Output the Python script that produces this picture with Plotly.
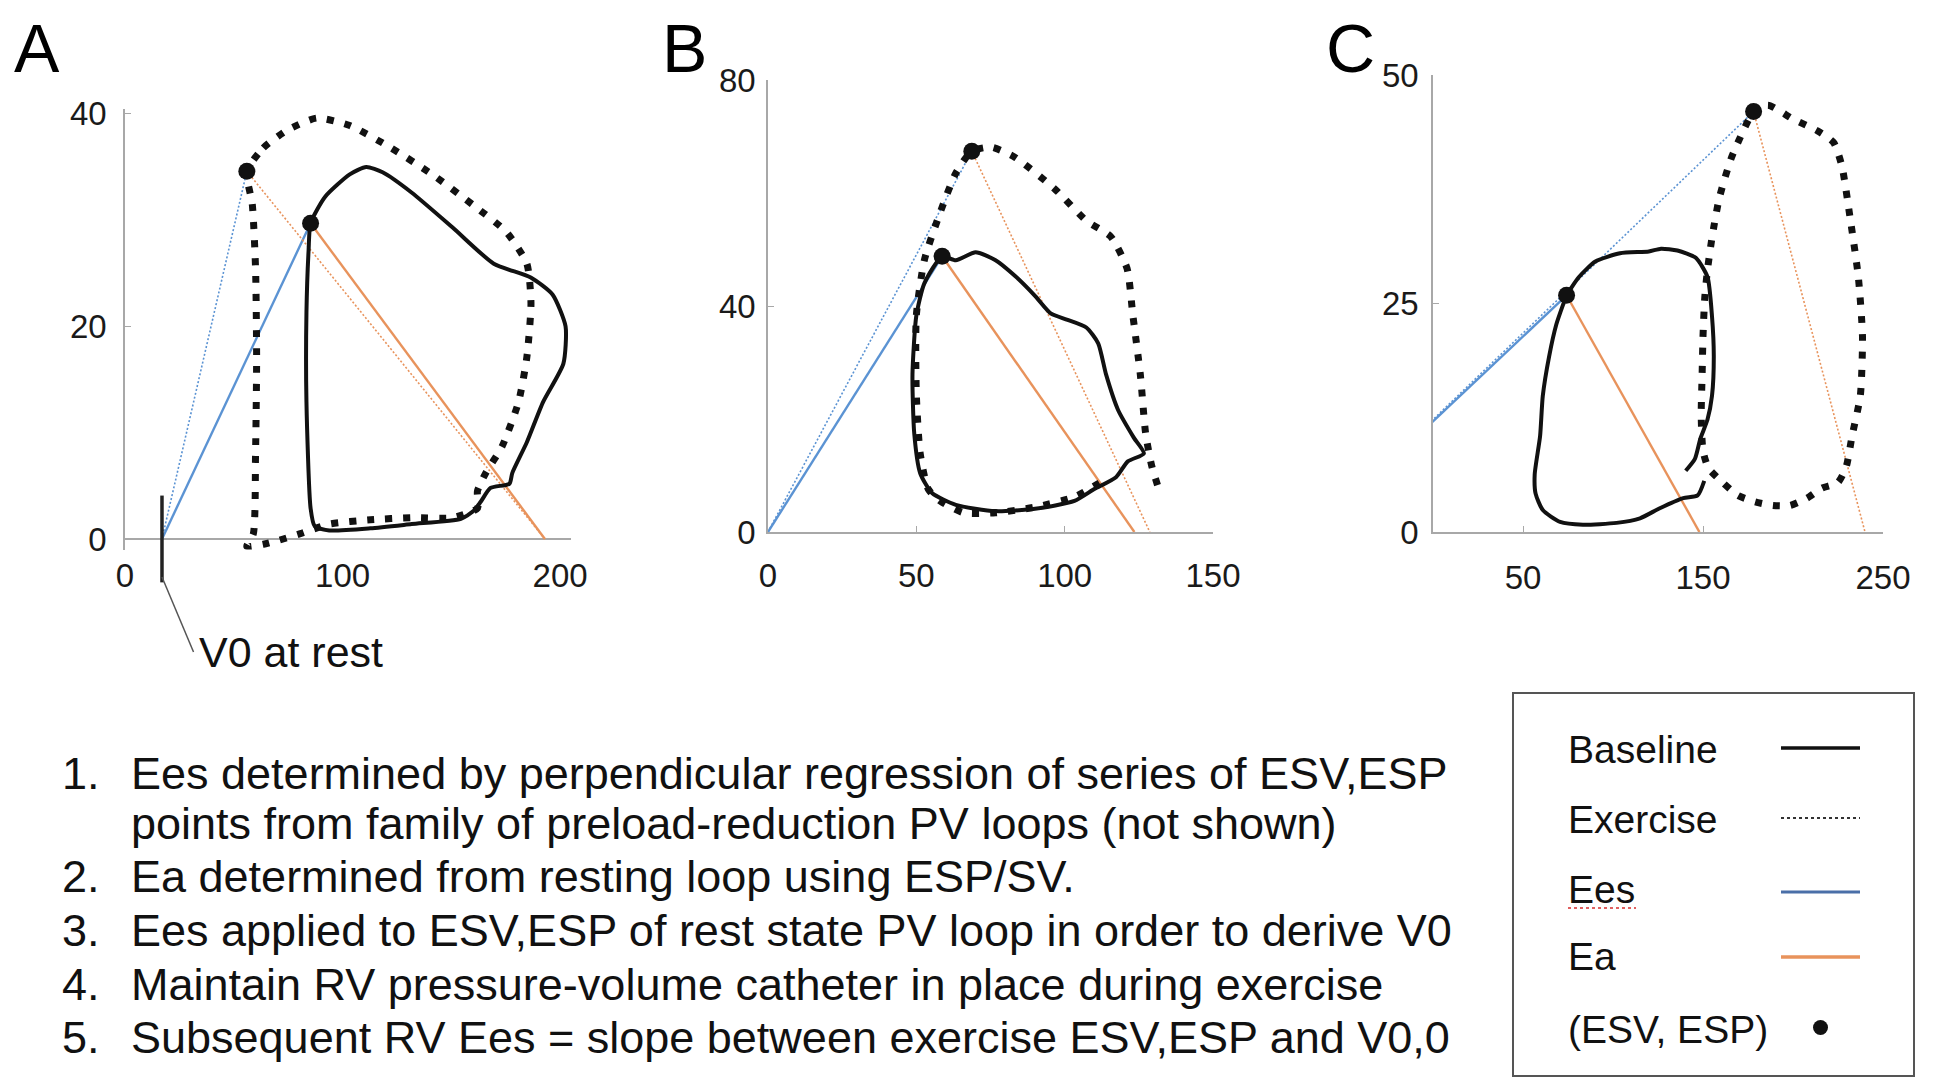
import plotly.graph_objects as go

# page body has an 8px default margin; the figure is sized and positioned to compensate
OFF = 8
W, H = 1950 - OFF, 1090 - OFF

# ---------------- data (volume, pressure) ----------------
# Panel A
a_base_v = [85.3, 92.0, 103.3, 110.9, 118.4, 131.7, 150.6, 169.5, 186.5, 196.5, 202.5, 201.5,
            192.2, 184.7, 178.0, 176.7, 168.0, 163.5, 160.0, 154.4, 131.7, 112.8, 93.9, 87.2,
            85.3, 83.4, 83.4, 84.4, 85.3]
a_base_p = [29.7, 32.2, 34.3, 35.0, 34.5, 32.6, 29.3, 25.9, 24.6, 23.0, 20.0, 16.5,
            12.9, 9.1, 6.2, 5.2, 4.8, 3.5, 2.6, 1.9, 1.4, 1.0, 0.8, 1.2,
            2.9, 12.9, 21.3, 27.2, 29.7]
a_ex_v = [56.0, 63.6, 74.9, 88.2, 103.3, 122.2, 141.2, 160.1, 175.2, 184.7, 186.6, 184.7,
          180.9, 173.3, 165.8, 162.0, 162.0, 150.6, 131.7, 112.8, 93.9, 80.6, 71.1, 63.6,
          56.0, 59.0, 60.0, 60.5, 60.0, 58.5, 56.0]
a_ex_p = [34.6, 36.8, 38.5, 39.6, 38.9, 36.8, 34.3, 31.4, 28.9, 25.9, 22.2, 17.1,
          12.9, 8.7, 6.2, 4.5, 2.9, 2.0, 2.0, 1.8, 1.4, 0.5, -0.1, -0.5,
          -0.7, 0.5, 8.0, 17.0, 25.5, 31.5, 34.6]

# Panel B
b_base_v = [58.7, 63.3, 70.0, 76.7, 83.3, 90.0, 95.3, 100.7, 107.3, 111.3, 114.0, 118.0,
            123.3, 126.7, 121.3, 117.3, 110.0, 103.3, 90.0, 76.7, 63.3, 55.3, 51.3, 49.3,
            48.7, 50.0, 52.7, 58.7]
b_base_p = [48.8, 48.1, 49.5, 48.1, 45.3, 41.8, 38.7, 37.6, 36.2, 33.4, 27.8, 21.6,
            16.7, 13.9, 12.5, 9.7, 7.6, 5.5, 4.1, 3.7, 4.8, 6.9, 10.4, 17.4,
            27.9, 38.3, 44.0, 48.8]
b_ex_v = [131.3, 129.3, 127.3, 125.5, 123.0, 121.0, 115.5, 107.3, 96.7, 83.3, 75.3, 68.7,
          63.3, 58.0, 52.7, 50.0, 50.0, 51.3, 54.0, 58.0, 66.0, 76.7, 90.0, 103.3, 112.7]
b_ex_p = [8.3, 11.8, 17.4, 27.9, 38.3, 46.7, 52.3, 55.1, 60.7, 66.3, 68.1, 67.4,
          63.5, 56.5, 48.1, 38.3, 24.4, 13.9, 7.6, 5.5, 3.4, 3.4, 4.4, 6.2, 9.0]

# Panel C
c_base_v = [150.7, 147.0, 139.0, 126.0, 115.0, 102.0, 83.3, 70.6, 61.0, 57.0, 56.5, 59.5,
            61.0, 64.5, 68.5, 72.5, 74.2, 81.1, 90.2, 103.9, 119.9, 126.7, 135.8, 146.0,
            152.5, 155.0, 156.0, 155.0, 152.5, 148.5, 145.5, 140.4]
c_base_p = [5.6, 4.0, 3.7, 2.6, 1.5, 1.0, 0.8, 1.1, 2.4, 4.2, 6.3, 10.5,
            14.9, 19.2, 22.7, 25.0, 25.9, 27.9, 29.6, 30.5, 30.7, 31.0, 30.8, 30.0,
            27.9, 23.6, 19.2, 14.9, 12.3, 10.2, 8.0, 6.7]
c_ex_v = [178.1, 186.1, 199.8, 213.5, 222.6, 227.2, 231.7, 236.3, 238.6, 237.4, 232.9, 229.5,
          224.9, 216.1, 207.8, 198.3, 188.9, 178.9, 169.4, 161.0, 153.0, 150.0, 149.0, 149.5,
          150.0, 151.0, 152.5, 155.0, 159.0, 165.5, 172.4, 178.1]
c_ex_p = [46.0, 46.7, 45.2, 43.9, 42.6, 40.0, 34.4, 27.9, 21.4, 14.9, 10.6, 7.1,
          5.4, 4.8, 3.7, 2.9, 2.9, 3.3, 4.0, 5.4, 7.0, 8.9, 12.7, 17.1,
          21.4, 25.7, 28.7, 32.2, 36.5, 40.8, 43.9, 46.0]

# End-systolic points, V0 and Ea intercepts per panel (A, B, C)
esv_base = [85.3, 58.7, 74.2]
esp_base = [29.7, 48.8, 25.9]
esv_ex = [56.0, 68.7, 178.1]
esp_ex = [34.6, 67.4, 46.0]
v0 = [17.0, 0.0, -65.0]
ea_end_base = [193.0, 123.5, 148.0]
ea_end_ex = [193.0, 128.7, 240.0]

panel_labels = ["A", "B", "C"]
x_ranges = [[0, 205], [0, 150], [0, 250]]
y_ranges = [[-1, 40.5], [0, 80], [0, 50]]
x_ticks = [[0, 100, 200], [0, 50, 100, 150], [50, 150, 250]]
y_ticks = [[0, 20, 40], [0, 40, 80], [0, 25, 50]]

legend_labels = ["Baseline", "Exercise", "Ees", "Ea", "(ESV, ESP)"]
notes = [
    ("1.", ["Ees determined by perpendicular regression of series of ESV,ESP",
            "points from family of preload-reduction PV loops (not shown)"]),
    ("2.", ["Ea determined from resting loop using ESP/SV."]),
    ("3.", ["Ees applied to ESV,ESP of rest state PV loop in order to derive V0"]),
    ("4.", ["Maintain RV pressure-volume catheter in place during exercise"]),
    ("5.", ["Subsequent RV Ees = slope between exercise ESV,ESP and V0,0"]),
]

# ---------------- styling / layout ----------------
FONT = "Liberation Sans, Arial, Helvetica, sans-serif"
BLUE = "#5b93d3"
ORANGE = "#e8935c"
INK = "#111111"
AXC = "#a8a8a8"


def px(x):
    return (x - OFF) / W


def py(y):
    return 1 - (y - OFF) / H


# plot boxes in screen pixels: left, right, top, bottom
boxes = [(125, 571, 108.5, 549.6), (768, 1213, 80, 532), (1433, 1883, 75, 532)]
x_standoff = [3, 14, 16]
y_standoff = [10, 4, 6]

loops = [(a_base_v, a_base_p, a_ex_v, a_ex_p),
         (b_base_v, b_base_p, b_ex_v, b_ex_p),
         (c_base_v, c_base_p, c_ex_v, c_ex_p)]

fig = go.Figure()
layout = dict(width=W, height=H, margin=dict(l=0, r=0, t=0, b=0, autoexpand=False),
              paper_bgcolor="white", plot_bgcolor="white", showlegend=False,
              font=dict(family=FONT, color=INK))

for i in range(3):
    xa = "x" if i == 0 else f"x{i+1}"
    ya = "y" if i == 0 else f"y{i+1}"
    bv, bp, ev, ep = loops[i]
    # Ees lines
    fig.add_trace(go.Scatter(x=[v0[i], esv_ex[i]], y=[0, esp_ex[i]], mode="lines",
                             line=dict(color=BLUE, width=1.6, dash="2px,2px"), xaxis=xa, yaxis=ya))
    fig.add_trace(go.Scatter(x=[v0[i], esv_base[i]], y=[0, esp_base[i]], mode="lines",
                             line=dict(color=BLUE, width=2.4), xaxis=xa, yaxis=ya))
    # Ea lines
    fig.add_trace(go.Scatter(x=[esv_ex[i], ea_end_ex[i]], y=[esp_ex[i], 0], mode="lines",
                             line=dict(color=ORANGE, width=1.6, dash="2px,2px"), xaxis=xa, yaxis=ya))
    fig.add_trace(go.Scatter(x=[esv_base[i], ea_end_base[i]], y=[esp_base[i], 0], mode="lines",
                             line=dict(color=ORANGE, width=2.4), xaxis=xa, yaxis=ya))
    # loops
    fig.add_trace(go.Scatter(x=ev, y=ep, mode="lines",
                             line=dict(color=INK, width=7, dash="7px,11px", shape="spline", smoothing=0.6),
                             xaxis=xa, yaxis=ya))
    fig.add_trace(go.Scatter(x=bv, y=bp, mode="lines",
                             line=dict(color=INK, width=4, shape="spline", smoothing=0.6),
                             xaxis=xa, yaxis=ya))
    # ESV, ESP points
    fig.add_trace(go.Scatter(x=[esv_base[i], esv_ex[i]], y=[esp_base[i], esp_ex[i]], mode="markers",
                             marker=dict(color=INK, size=17), cliponaxis=False, xaxis=xa, yaxis=ya))

    l, r, t, b = boxes[i]
    xdom = [px(l), px(r)]
    ydom = [py(b), py(t)]
    is_a = (i == 0)
    layout["xaxis" if i == 0 else f"xaxis{i+1}"] = dict(
        domain=xdom, range=x_ranges[i], anchor=ya, tickmode="array", tickvals=x_ticks[i],
        showgrid=False, zeroline=False, showline=not is_a, linecolor=AXC, linewidth=1.6,
        ticks="" if is_a else "inside", ticklen=6, tickcolor=AXC, tickwidth=1.4,
        tickfont=dict(size=33, color="#1a1a1a", family=FONT), ticklabelstandoff=x_standoff[i])
    layout["yaxis" if i == 0 else f"yaxis{i+1}"] = dict(
        domain=ydom, range=y_ranges[i], anchor=xa, tickmode="array", tickvals=y_ticks[i],
        showgrid=False, zeroline=is_a, zerolinecolor=AXC, zerolinewidth=1.6,
        showline=True, linecolor=AXC, linewidth=1.6,
        ticks="inside", ticklen=6, tickcolor=AXC, tickwidth=1.4,
        tickfont=dict(size=33, color="#1a1a1a", family=FONT), ticklabelstandoff=y_standoff[i])

# V0 marker in panel A
fig.add_trace(go.Scatter(x=[v0[0]], y=[0], mode="markers", cliponaxis=False,
                         marker=dict(symbol="line-ns", size=62, color="#222222",
                                     line=dict(color="#222222", width=3.5)),
                         xaxis="x", yaxis="y"))

fig.update_layout(**layout)

annotations = []
shapes = []

# panel letters
for lab, cx in zip(panel_labels, [37, 684, 1350]):
    annotations.append(dict(text=lab, x=px(cx), y=1.0, xref="paper", yref="paper",
                            xanchor="center", yanchor="top", showarrow=False,
                            font=dict(size=68, color="#000000", family=FONT)))

# V0 at rest label with leader line
shapes.append(dict(type="line", xref="x", yref="paper", x0=v0[0], x1=v0[0] + 14.5,
                   y0=py(577), y1=py(652), line=dict(color="#555555", width=1.5)))
annotations.append(dict(text="V0 at rest", x=v0[0] + 16.0, y=py(652), xref="x", yref="paper",
                        xanchor="left", yanchor="middle", showarrow=False,
                        font=dict(size=43, color="#111111", family=FONT)))

# numbered notes
line_y = [773, 823, 876, 930, 984, 1037]
k = 0
for num, lines in notes:
    annotations.append(dict(text=num, x=px(60), y=py(line_y[k]), xref="paper", yref="paper",
                            xanchor="left", yanchor="middle", showarrow=False,
                            font=dict(size=45, color="#111111", family=FONT)))
    for ln in lines:
        annotations.append(dict(text=ln, x=px(129), y=py(line_y[k]), xref="paper", yref="paper",
                                xanchor="left", yanchor="middle", showarrow=False,
                                font=dict(size=45, color="#111111", family=FONT)))
        k += 1

# legend box
shapes.append(dict(type="rect", xref="paper", yref="paper", x0=px(1513), x1=px(1914),
                   y0=py(1076), y1=py(693), line=dict(color="#555555", width=2)))
leg_y = [749, 819, 889, 956, 1029]
sample_y = [748, 818, 892, 957]
for lab, yy in zip(legend_labels, leg_y):
    annotations.append(dict(text=lab, x=px(1566), y=py(yy), xref="paper", yref="paper",
                            xanchor="left", yanchor="middle", showarrow=False,
                            font=dict(size=39, color="#111111", family=FONT)))
sample_styles = [dict(color=INK, width=3.5),
                 dict(color="#333333", width=2, dash="dot"),
                 dict(color="#4a6fa8", width=3),
                 dict(color=ORANGE, width=3.5)]
for yy, st in zip(sample_y, sample_styles):
    shapes.append(dict(type="line", xref="paper", yref="paper", x0=px(1781), x1=px(1860),
                       y0=py(yy), y1=py(yy), line=st))
shapes.append(dict(type="circle", xref="paper", yref="paper", x0=px(1813), x1=px(1828),
                   y0=py(1035), y1=py(1020), fillcolor=INK, line=dict(color=INK, width=0)))
# spell-check squiggle under "Ees"
shapes.append(dict(type="line", xref="paper", yref="paper", x0=px(1568), x1=px(1636),
                   y0=py(908), y1=py(908), line=dict(color="#e06060", width=2, dash="dot")))

fig.update_layout(annotations=annotations, shapes=shapes)
fig.write_html("out.html")
